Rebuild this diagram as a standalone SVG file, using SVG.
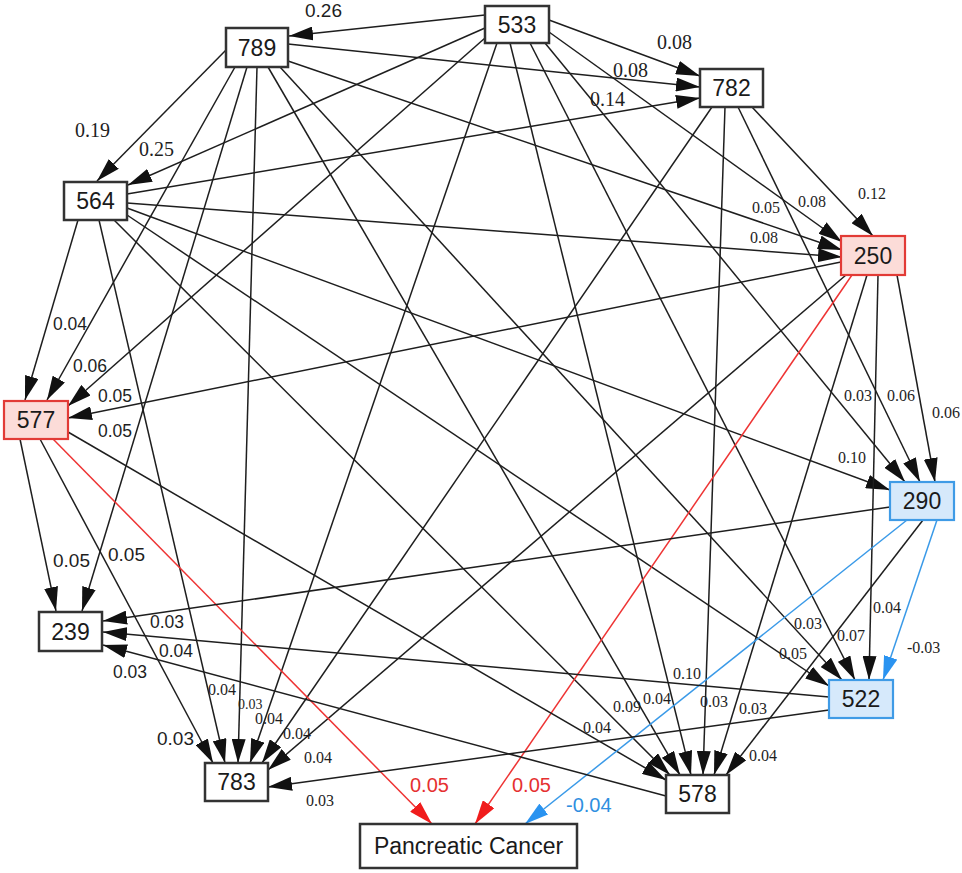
<svg xmlns="http://www.w3.org/2000/svg" width="962" height="873" viewBox="0 0 962 873">
<style>
.n rect{fill:#fff;stroke:#333;stroke-width:2.5}
.n.r rect{fill:#fcdcd8;stroke:#e23b36;stroke-width:2.2}
.n.b rect{fill:#d6e9fb;stroke:#3f9be6;stroke-width:2.2}
.n text{font-family:"Liberation Sans",Arial,sans-serif;font-size:23px;fill:#1a1a1a;text-anchor:middle}
.e line{stroke:#1e1e1e;stroke-width:1.5;marker-end:url(#ah)}
.e line.red{stroke:#ee3434;marker-end:url(#ahr)}
.e line.blue{stroke:#3a9ae8;marker-end:url(#ahb)}
.lab text{fill:#1e1e1e}
.s1{font-family:"Liberation Serif","Times New Roman",serif;font-size:20px}
.s2{font-family:"Liberation Serif","Times New Roman",serif;font-size:16px}
.ss{font-family:"Liberation Sans",Arial,sans-serif;font-size:17.5px}
.sl{font-family:"Liberation Sans",Arial,sans-serif;font-size:19px}
.lab text.rt{fill:#e53030;font-size:20px}
.lab text.bt{fill:#2f8fe0;font-size:20px}
</style>
<defs>
<marker id="ah" viewBox="0 0 24 14" refX="24" refY="7" markerWidth="24" markerHeight="14" markerUnits="userSpaceOnUse" orient="auto"><path d="M0,0 L24,7 L0,14 z" fill="#111"/></marker>
<marker id="ahr" viewBox="0 0 24 14" refX="24" refY="7" markerWidth="24" markerHeight="14" markerUnits="userSpaceOnUse" orient="auto"><path d="M0,0 L24,7 L0,14 z" fill="#f01c1c"/></marker>
<marker id="ahb" viewBox="0 0 24 14" refX="24" refY="7" markerWidth="24" markerHeight="14" markerUnits="userSpaceOnUse" orient="auto"><path d="M0,0 L24,7 L0,14 z" fill="#2a93f0"/></marker>
</defs>
<rect width="962" height="873" fill="#fff"/>
<g id="connectors" class="e">
<line x1="485" y1="15" x2="289" y2="36"/>
<line x1="549" y1="20" x2="700" y2="76"/>
<line x1="485" y1="28" x2="128" y2="185"/>
<line x1="549" y1="32" x2="842" y2="242"/>
<line x1="485" y1="38" x2="68" y2="406"/>
<line x1="545" y1="43" x2="905" y2="482"/>
<line x1="530" y1="43" x2="855" y2="680"/>
<line x1="497" y1="43" x2="250" y2="763"/>
<line x1="510" y1="43" x2="691" y2="775"/>
<line x1="288" y1="44" x2="700" y2="87"/>
<line x1="226" y1="50" x2="97" y2="181"/>
<line x1="288" y1="61" x2="842" y2="250"/>
<line x1="235" y1="67" x2="47" y2="400"/>
<line x1="280" y1="67" x2="842" y2="680"/>
<line x1="247" y1="67" x2="82" y2="611"/>
<line x1="257" y1="67" x2="238" y2="763"/>
<line x1="268" y1="67" x2="680" y2="775"/>
<line x1="127" y1="194" x2="700" y2="98"/>
<line x1="127" y1="203" x2="842" y2="257"/>
<line x1="78" y1="220" x2="25" y2="400"/>
<line x1="127" y1="208" x2="890" y2="490"/>
<line x1="127" y1="215" x2="829" y2="686"/>
<line x1="99" y1="220" x2="225" y2="763"/>
<line x1="114" y1="220" x2="670" y2="775"/>
<line x1="752" y1="107" x2="873" y2="236"/>
<line x1="738" y1="107" x2="920" y2="482"/>
<line x1="712" y1="107" x2="262" y2="763"/>
<line x1="725" y1="107" x2="703" y2="775"/>
<line x1="841" y1="262" x2="68" y2="418"/>
<line x1="897" y1="275" x2="935" y2="482"/>
<line x1="878" y1="275" x2="869" y2="680"/>
<line x1="846" y1="275" x2="268" y2="770"/>
<line x1="867" y1="275" x2="714" y2="775"/>
<line class="red" x1="852" y1="275" x2="475" y2="824"/>
<line x1="20" y1="439" x2="56" y2="611"/>
<line x1="40" y1="439" x2="213" y2="763"/>
<line x1="68" y1="432" x2="666" y2="780"/>
<line class="red" x1="53" y1="439" x2="432" y2="824"/>
<line x1="890" y1="507" x2="103" y2="621"/>
<line class="blue" x1="937" y1="520" x2="883" y2="680"/>
<line class="blue" x1="907" y1="520" x2="525" y2="824"/>
<line x1="923" y1="520" x2="726" y2="775"/>
<line x1="829" y1="697" x2="103" y2="632"/>
<line x1="829" y1="710" x2="268" y2="787"/>
<line x1="666" y1="796" x2="103" y2="645"/>
</g>
<g id="labels" class="lab">
<text class="sl" x="305" y="17">0.26</text>
<text class="s1" x="75" y="137">0.19</text>
<text class="s1" x="139" y="156">0.25</text>
<text class="s1" x="657" y="49">0.08</text>
<text class="s1" x="613" y="77">0.08</text>
<text class="s1" x="590" y="106">0.14</text>
<text class="s2" x="752" y="213">0.05</text>
<text class="s2" x="798" y="207">0.08</text>
<text class="s2" x="750" y="243">0.08</text>
<text class="s2" x="858" y="199">0.12</text>
<text class="s2" x="844" y="401">0.03</text>
<text class="s2" x="887" y="401">0.06</text>
<text class="s2" x="932" y="418">0.06</text>
<text class="s2" x="838" y="463">0.10</text>
<text class="s2" x="873" y="613">0.04</text>
<text class="s2" x="794" y="629">0.03</text>
<text class="s2" x="837" y="641">0.07</text>
<text class="s2" x="907" y="653">-0.03</text>
<text class="s2" x="779" y="659">0.05</text>
<text class="s2" x="673" y="679">0.10</text>
<text class="s2" x="643" y="704">0.04</text>
<text class="s2" x="700" y="707">0.03</text>
<text class="s2" x="739" y="714">0.03</text>
<text class="s2" x="749" y="761">0.04</text>
<text class="s2" x="613" y="712">0.09</text>
<text class="s2" x="583" y="733">0.04</text>
<text class="s2" x="208" y="695">0.04</text>
<text class="s2" x="238" y="709" style="font-size:14px">0.03</text>
<text class="s2" x="255" y="724">0.04</text>
<text class="s2" x="283" y="739">0.04</text>
<text class="s2" x="304" y="763">0.04</text>
<text class="s2" x="306" y="806">0.03</text>
<text class="ss" x="53" y="330">0.04</text>
<text class="ss" x="73" y="372">0.06</text>
<text class="ss" x="98" y="402">0.05</text>
<text class="ss" x="98" y="437">0.05</text>
<text class="sl" x="53" y="567">0.05</text>
<text class="sl" x="108" y="561">0.05</text>
<text class="ss" x="150" y="628">0.03</text>
<text class="ss" x="159" y="657">0.04</text>
<text class="ss" x="113" y="678">0.03</text>
<text class="sl" x="157" y="745">0.03</text>
<text class="sl rt" x="410" y="792">0.05</text>
<text class="sl rt" x="512" y="792">0.05</text>
<text class="sl bt" x="566" y="812">-0.04</text>
</g>
<g id="n533" class="n"><rect x="485" y="6" width="64" height="37"/><text x="517" y="33">533</text></g>
<g id="n789" class="n"><rect x="226" y="28" width="62" height="39"/><text x="257" y="56">789</text></g>
<g id="n782" class="n"><rect x="700" y="69" width="63" height="38"/><text x="731.5" y="96">782</text></g>
<g id="n564" class="n"><rect x="64" y="182" width="63" height="38"/><text x="95.5" y="209">564</text></g>
<g id="n250" class="n r"><rect x="841" y="236" width="64" height="39"/><text x="873" y="264">250</text></g>
<g id="n577" class="n r"><rect x="4" y="401" width="64" height="38"/><text x="36" y="428">577</text></g>
<g id="n290" class="n b"><rect x="890" y="482" width="64" height="38"/><text x="922" y="509">290</text></g>
<g id="n239" class="n"><rect x="39" y="612" width="63" height="39"/><text x="70.5" y="640">239</text></g>
<g id="n783" class="n"><rect x="205" y="763" width="63" height="38"/><text x="236.5" y="790">783</text></g>
<g id="n522" class="n b"><rect x="829" y="680" width="64" height="38"/><text x="861" y="707">522</text></g>
<g id="n578" class="n"><rect x="666" y="775" width="63" height="38"/><text x="697.5" y="802">578</text></g>
<g id="nPC" class="n"><rect x="360" y="824" width="217" height="44"/><text x="468.5" y="854">Pancreatic Cancer</text></g>
</svg>
